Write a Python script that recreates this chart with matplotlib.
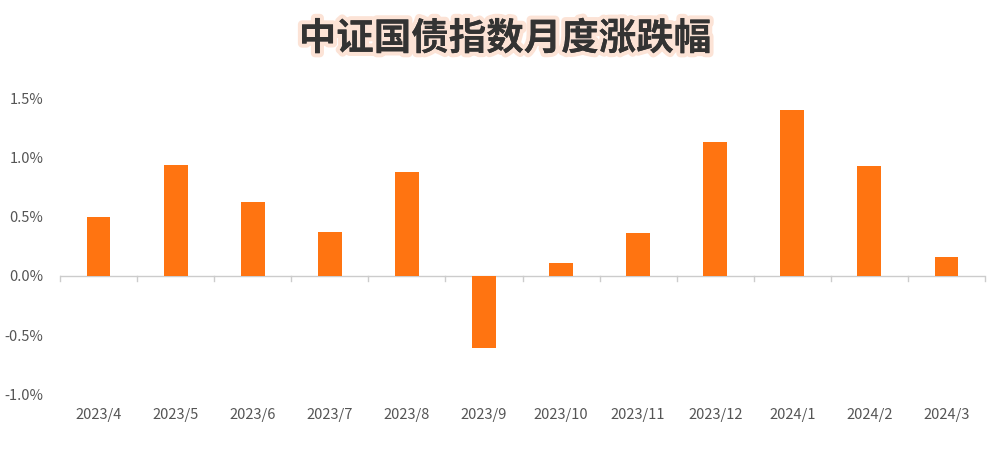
import matplotlib
matplotlib.use("Agg")
import matplotlib.pyplot as plt
import matplotlib.patheffects as pe
import numpy as np

plt.rcParams['font.family'] = ['Noto Sans CJK SC', 'DejaVu Sans']

categories = ['2023/4','2023/5','2023/6','2023/7','2023/8','2023/9','2023/10','2023/11','2023/12','2024/1','2024/2','2024/3']
values = [0.50, 0.94, 0.62, 0.37, 0.88, -0.61, 0.11, 0.36, 1.13, 1.40, 0.93, 0.16]
yticks = [-1.0, -0.5, 0.0, 0.5, 1.0, 1.5]

fig = plt.figure(figsize=(10, 4.51), dpi=100)
ax = fig.add_axes([0.06, 0.126, 0.925, 0.656])
x = np.arange(len(categories))
ax.bar(x, values, width=0.31, color='#FF7411', zorder=3)
ax.set_xlim(-0.5, len(categories) - 0.5)
ax.set_ylim(-1.0, 1.5)
ax.set_yticks(yticks)
ax.set_yticklabels([f'{v:.1f}%' for v in yticks], fontsize=10.5, color='#555555')
ax.set_xticks(x)
ax.set_xticklabels(categories, fontsize=10.5, color='#555555')
ax.tick_params(axis='both', length=0, pad=10)
ax.tick_params(axis='y', pad=12)
for s in ax.spines.values():
    s.set_visible(False)
ax.axhline(0, color='#cccccc', lw=1, zorder=2)
for b in np.arange(-0.5, len(categories) + 0.5, 1):
    ax.plot([b, b], [0, -0.04], color='#cccccc', lw=1, zorder=2, clip_on=False)

fig.text(0.505, 0.915, '中证国债指数月度涨跌幅', ha='center', va='center', fontsize=27,
         fontweight='bold', color='#333333',
         path_effects=[pe.withStroke(linewidth=6, foreground='#FCE3D6'), pe.Normal()])
fig.savefig('out.png', dpi=100, facecolor='white')
